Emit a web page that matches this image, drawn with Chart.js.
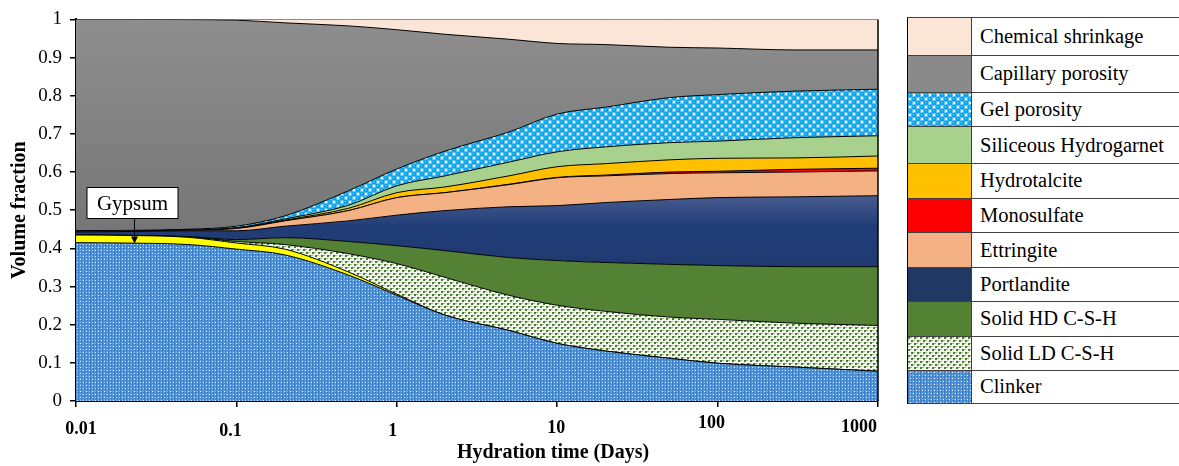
<!DOCTYPE html>
<html>
<head>
<meta charset="utf-8">
<script src="https://cdn.jsdelivr.net/npm/chart.js@4.4.0/dist/chart.umd.min.js"></script>
<style>
  html, body { margin: 0; padding: 0; background: #fff; width: 1179px; height: 466px; overflow: hidden;
    font-family: 'Liberation Serif', 'Times New Roman', serif; }
  #wrap { position: absolute; left: 0; top: 0; width: 900px; height: 466px; }
  #xtitle { position: absolute; left: 403px; top: 438px; width: 300px; text-align: center;
    font-weight: bold; font-size: 20px; line-height: 26px; white-space: nowrap; color: #000; }
  #legend { position: absolute; left: 907px; top: 17px; width: 290px; border-left: 1px solid #000;
    border-top: 1px solid #404040; }
  .row { display: flex; border-bottom: 1px solid #404040; box-sizing: border-box; }
  .sw { width: 63px; border-right: 1px solid #404040; flex: none; }
  .lbl { padding-left: 8px; font-size: 20.5px; color: #000; display: flex; align-items: center; white-space: nowrap; }
</style>
</head>
<body>
<div id="wrap"><canvas id="chart"></canvas></div>
<div id="xtitle">Hydration time (Days)</div>
<div id="legend"></div>
<script>
// Hydration age (days) at which the phase volumes are given
const days = [0.01, 0.02, 0.05, 0.1, 0.2, 0.5, 1, 2, 5, 10, 20, 50, 100, 300, 1000];

// Volume fraction of each phase, bottom of the stack first
const clinker      = [0.415, 0.414, 0.410, 0.398, 0.383, 0.330, 0.277, 0.225, 0.185, 0.151, 0.131, 0.112, 0.099, 0.089, 0.078];
const gypsum       = [0.020, 0.020, 0.019, 0.016, 0.015, 0.008, 0.003, 0.000, 0.000, 0.000, 0.000, 0.000, 0.000, 0.000, 0.000];
const ldCSH        = [0.000, 0.000, 0.001, 0.004, 0.012, 0.048, 0.080, 0.099, 0.092, 0.100, 0.104, 0.108, 0.115, 0.115, 0.120];
const hdCSH        = [0.000, 0.000, 0.001, 0.005, 0.018, 0.032, 0.047, 0.070, 0.099, 0.117, 0.128, 0.138, 0.141, 0.148, 0.154];
const portlandite  = [0.008, 0.010, 0.015, 0.023, 0.030, 0.054, 0.080, 0.105, 0.133, 0.144, 0.157, 0.170, 0.178, 0.183, 0.186];
const ettringite   = [0.002, 0.002, 0.002, 0.006, 0.014, 0.027, 0.046, 0.047, 0.058, 0.073, 0.070, 0.068, 0.065, 0.065, 0.065];
const monosulfate  = [0.000, 0.000, 0.000, 0.000, 0.000, 0.000, 0.000, 0.000, 0.001, 0.001, 0.002, 0.004, 0.004, 0.007, 0.007];
const hydrotalcite = [0.000, 0.000, 0.000, 0.001, 0.002, 0.006, 0.013, 0.015, 0.022, 0.028, 0.030, 0.032, 0.034, 0.030, 0.032];
const hydrogarnet  = [0.000, 0.000, 0.000, 0.001, 0.003, 0.008, 0.018, 0.029, 0.036, 0.039, 0.044, 0.045, 0.045, 0.053, 0.053];
const gelPorosity  = [0.001, 0.001, 0.002, 0.004, 0.008, 0.038, 0.044, 0.065, 0.079, 0.099, 0.104, 0.118, 0.122, 0.122, 0.122];
const capPorosity  = [0.554, 0.553, 0.5495, 0.540, 0.506, 0.432, 0.365, 0.306, 0.243, 0.185, 0.164, 0.132, 0.122, 0.108, 0.103];
const shrinkage    = [0.000, 0.000, 0.0005, 0.002, 0.009, 0.017, 0.027, 0.039, 0.052, 0.063, 0.066, 0.073, 0.075, 0.080, 0.080];

// Axis ticks
const xTickValues = [0.01, 0.1, 1, 10, 100, 1000];
const xTickLabels = ['0.01', '0.1', '1', '10', '100', '1000'];
const yTickLabels = ['0', '0.1', '0.2', '0.3', '0.4', '0.5', '0.6', '0.7', '0.8', '0.9', '1'];

// Gypsum call-out anchor (day, volume fraction)
const gypsumNote = { day: 0.023, level: 0.413, text: 'Gypsum' };

const FONT = "'Liberation Serif', 'Times New Roman', serif";

// ---- fill patterns ----
function tile(size, paint) {
  const c = document.createElement('canvas');
  c.width = c.height = size;
  paint(c.getContext('2d'));
  return c;
}
const clinkerTile = tile(6, g => {
  g.fillStyle = '#5294d6'; g.fillRect(0, 0, 6, 6);
  g.fillStyle = '#3a7dc8'; g.fillRect(0, 0, 1, 6);
  g.fillStyle = '#ffffff'; g.fillRect(2, 1, 1, 1); g.fillRect(5, 4, 1, 1);
  g.fillStyle = '#94bde9'; g.fillRect(2, 4, 1, 1); g.fillRect(5, 1, 1, 1);
  g.fillStyle = '#2a6dbd'; g.fillRect(3, 2, 1, 1); g.fillRect(3, 5, 1, 1);
});
const ldTile = tile(6, g => {
  g.fillStyle = '#f2f6ee'; g.fillRect(0, 0, 6, 6);
  g.fillStyle = '#4a7b2c'; g.fillRect(0, 0, 2, 2); g.fillRect(3, 3, 2, 2);
  g.fillStyle = '#95b782'; g.fillRect(2, 0, 1, 1); g.fillRect(5, 3, 1, 1); g.fillRect(0, 3, 1, 1); g.fillRect(3, 0, 1, 1);
});
const gelTile = tile(8, g => {
  g.fillStyle = '#ffffff'; g.fillRect(0, 0, 8, 8);
  g.fillStyle = '#10a4ea';
  g.beginPath(); g.arc(2, 2, 2.8, 0, Math.PI * 2); g.fill();
  g.beginPath(); g.arc(6, 6, 2.8, 0, Math.PI * 2); g.fill();
  g.beginPath(); g.arc(10, 2, 2.8, 0, Math.PI * 2); g.fill();
  g.beginPath(); g.arc(-2, 6, 2.8, 0, Math.PI * 2); g.fill();
  g.beginPath(); g.arc(2, 10, 2.8, 0, Math.PI * 2); g.fill();
  g.beginPath(); g.arc(6, -2, 2.8, 0, Math.PI * 2); g.fill();
  g.fillStyle = '#7fd6f8'; g.fillRect(1, 1, 1, 1); g.fillRect(5, 5, 1, 1);
});
const pctx = document.createElement('canvas').getContext('2d');
const clinkerPattern = pctx.createPattern(clinkerTile, 'repeat');
const ldPattern = pctx.createPattern(ldTile, 'repeat');
const gelPattern = pctx.createPattern(gelTile, 'repeat');

function vGradient(stops, fallback, vTop, vBottom) {
  return ctx => {
    const ch = ctx.chart;
    if (!ch.chartArea) return fallback;
    const ys = ch.scales.y;
    const gr = ch.ctx.createLinearGradient(0, ys.getPixelForValue(vTop), 0, ys.getPixelForValue(vBottom));
    stops.forEach(([o, c]) => gr.addColorStop(o, c));
    return gr;
  };
}

// Series from the bottom of the stack upwards
const series = [
  { name: 'Clinker', data: clinker, fill: clinkerPattern, swatch: clinkerTile },
  { name: 'Gypsum', data: gypsum, fill: '#ffff00', inLegend: false },
  { name: 'Solid LD C-S-H', data: ldCSH, fill: ldPattern, swatch: ldTile },
  { name: 'Solid HD C-S-H', data: hdCSH, fill: '#548235' },
  { name: 'Portlandite', data: portlandite,
    fill: vGradient([[0, '#4a5e90'], [0.45, '#213d78'], [1, '#1f3a70']], '#203864', 0.545, 0.35),
    swatch: '#203864' },
  { name: 'Ettringite', data: ettringite, fill: '#f4b183' },
  { name: 'Monosulfate', data: monosulfate, fill: '#ff0000' },
  { name: 'Hydrotalcite', data: hydrotalcite, fill: '#ffc000' },
  { name: 'Siliceous Hydrogarnet', data: hydrogarnet, fill: '#a9d18e' },
  { name: 'Gel porosity', data: gelPorosity, fill: gelPattern, swatch: gelTile },
  { name: 'Capillary porosity', data: capPorosity,
    fill: vGradient([[0, '#8e8e8e'], [1, '#767676']], '#888888', 1, 0.44),
    swatch: '#8a8a8a' },
  { name: 'Chemical shrinkage', data: shrinkage, fill: '#fbe5d6' }
];

const datasets = series.map((s, i) => ({
  label: s.name,
  data: days.map((d, k) => ({ x: d, y: s.data[k] })),
  backgroundColor: s.fill,
  borderColor: '#000000',
  borderWidth: 1,
  pointRadius: 0,
  cubicInterpolationMode: 'monotone',
  fill: i === 0 ? 'origin' : '-1'
}));

// Tick labels on the time axis, with small hand-placed nudges
const xLabelNudge = [[5, 28], [-6, 30], [-4, 30], [-1, 27], [-6, 22], [-19, 26]];
const timeLabels = {
  id: 'timeLabels',
  afterDraw(chart) {
    const { ctx, scales: { x } } = chart;
    ctx.save();
    ctx.font = 'bold 18px ' + FONT;
    ctx.fillStyle = '#000';
    ctx.textAlign = 'center';
    ctx.textBaseline = 'middle';
    xTickValues.forEach((v, i) => {
      const [dx, dy] = xLabelNudge[i];
      ctx.fillText(xTickLabels[i], x.getPixelForValue(v) + dx, x.top + dy);
    });
    ctx.restore();
  }
};

// Right-hand frame edge of the plot
const frameEdge = {
  id: 'frameEdge',
  afterDatasetsDraw(chart) {
    const { ctx, chartArea: a } = chart;
    ctx.save();
    ctx.strokeStyle = '#000';
    ctx.lineWidth = 1.5;
    ctx.beginPath();
    ctx.moveTo(a.right, a.top);
    ctx.lineTo(a.right, a.bottom);
    ctx.stroke();
    ctx.restore();
  }
};

// Labelled arrow pointing at the thin gypsum band
const gypsumCallout = {
  id: 'gypsumCallout',
  afterDatasetsDraw(chart) {
    const { ctx, scales: { x, y } } = chart;
    const tx = Math.round(x.getPixelForValue(gypsumNote.day)) + 0.5;
    const ty = y.getPixelForValue(gypsumNote.level);
    const bx = tx - 47.5, by = Math.round(ty - 56) + 0.5, bw = 91, bh = 31;
    ctx.save();
    ctx.fillStyle = '#fff';
    ctx.strokeStyle = '#000';
    ctx.lineWidth = 1;
    ctx.fillRect(bx, by, bw, bh);
    ctx.strokeRect(bx, by, bw, bh);
    ctx.fillStyle = '#000';
    ctx.font = '21px ' + FONT;
    ctx.textAlign = 'center';
    ctx.textBaseline = 'middle';
    ctx.fillText(gypsumNote.text, bx + bw / 2, by + bh / 2 + 1);
    ctx.beginPath();
    ctx.moveTo(tx, by + bh);
    ctx.lineTo(tx, ty - 6);
    ctx.stroke();
    ctx.beginPath();
    ctx.moveTo(tx - 3.5, ty - 7);
    ctx.lineTo(tx + 3.5, ty - 7);
    ctx.lineTo(tx, ty);
    ctx.closePath();
    ctx.fill();
    ctx.restore();
  }
};

new Chart(document.getElementById('chart'), {
  type: 'line',
  data: { datasets },
  options: {
    responsive: true,
    maintainAspectRatio: false,
    animation: false,
    layout: { padding: { top: 18, right: 22, bottom: 0, left: 0 } },
    plugins: { legend: { display: false }, tooltip: { enabled: false } },
    elements: { line: { borderJoinStyle: 'round' } },
    scales: {
      x: {
        type: 'logarithmic',
        min: 0.01,
        max: 1000,
        afterBuildTicks(s) { s.ticks = xTickValues.map(v => ({ value: v })); },
        ticks: { display: false },
        grid: { drawOnChartArea: false, drawTicks: true, tickLength: 6, color: '#000', lineWidth: 1.5 },
        border: { display: true, color: '#000', width: 2 },
        afterFit(s) { s.height = 65; }
      },
      y: {
        stacked: true,
        min: 0,
        max: 1,
        ticks: {
          stepSize: 0.1,
          callback: v => yTickLabels[Math.round(v * 10)],
          font: { family: FONT, size: 19 },
          color: '#000',
          padding: 8
        },
        grid: { drawOnChartArea: false, drawTicks: true, tickLength: 6, color: '#000', lineWidth: 1.5 },
        border: { display: true, color: '#000', width: 2 },
        title: { display: true, text: 'Volume fraction', color: '#000',
                 font: { family: FONT, size: 20, weight: 'bold' }, padding: { top: 8, bottom: 0 } },
        afterFit(s) { s.width = 76; }
      }
    }
  },
  plugins: [timeLabels, frameEdge, gypsumCallout]
});

// Legend table, top row first
const rowHeights = [37.7, 37.3, 34.4, 36.6, 35, 34.4, 34.6, 34.4, 34.3, 34, 33.3];
const legendEl = document.getElementById('legend');
series.filter(s => s.inLegend !== false).reverse().forEach((s, i) => {
  const row = document.createElement('div');
  row.className = 'row';
  row.style.height = rowHeights[i] + 'px';
  const sw = document.createElement('div');
  sw.className = 'sw';
  const look = s.swatch || s.fill;
  if (typeof look === 'string') sw.style.background = look;
  else sw.style.backgroundImage = 'url(' + look.toDataURL() + ')';
  const lbl = document.createElement('div');
  lbl.className = 'lbl';
  lbl.textContent = s.name;
  row.appendChild(sw);
  row.appendChild(lbl);
  legendEl.appendChild(row);
});
</script>
</body>
</html>
